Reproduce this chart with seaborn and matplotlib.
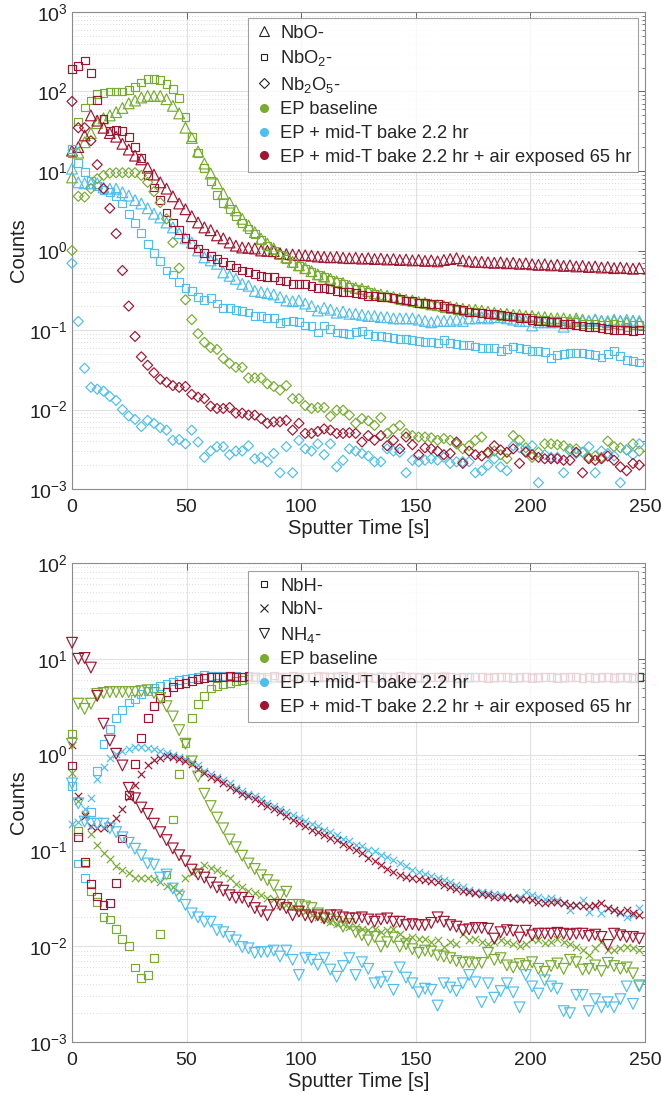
import numpy as np
import matplotlib
matplotlib.use("Agg")
import matplotlib.pyplot as plt
from matplotlib.lines import Line2D
from matplotlib.ticker import LogLocator, NullFormatter, MultipleLocator
import seaborn as sns

DT = 2.75  # seconds between profile points

# ---------------- top panel: oxides ----------------
nbo_ep = [8.3, 17, 23, 30, 40, 46, 50, 55, 62, 71, 77, 84, 88, 88, 88, 80, 66, 53, 35, 26,
          17.6, 12.4, 9.3, 7.0, 5.2, 4.0, 3.2, 2.5, 2.06, 1.7, 1.41, 1.22, 1.06, 0.92, 0.82, 0.72, 0.65, 0.6, 0.55, 0.5,
          0.47, 0.44, 0.41, 0.39, 0.36, 0.34, 0.33, 0.31, 0.29, 0.28,
          0.27, 0.26, 0.25, 0.24, 0.235, 0.225, 0.22, 0.21, 0.205, 0.2,
          0.195, 0.19, 0.185, 0.18, 0.18, 0.175, 0.17, 0.165, 0.16, 0.16,
          0.155, 0.155, 0.15, 0.15, 0.145, 0.145, 0.14, 0.14, 0.14, 0.135,
          0.14, 0.135, 0.13, 0.135, 0.13, 0.125, 0.13, 0.13, 0.125, 0.13, 0.125]
nbo2_ep = [17, 42, 63, 77, 92, 95, 100, 100, 100, 105, 115, 130, 145, 145, 138, 125, 108, 82, 48, 27,
           17, 11, 7.5, 5.0, 4.0, 3.3, 2.7, 2.2, 1.85, 1.6, 1.35, 1.15, 1.0, 0.88, 0.78, 0.7, 0.64, 0.58, 0.53, 0.49,
           0.46, 0.43, 0.4, 0.38, 0.35, 0.33, 0.32, 0.3, 0.285, 0.27,
           0.26, 0.25, 0.24, 0.235, 0.225, 0.22, 0.21, 0.205, 0.2, 0.19,
           0.185, 0.18, 0.175, 0.17, 0.17, 0.165, 0.16, 0.155, 0.15, 0.15,
           0.145, 0.145, 0.14, 0.14, 0.135, 0.135, 0.13, 0.13, 0.13, 0.125,
           0.125, 0.12, 0.12, 0.12, 0.115, 0.115, 0.12, 0.115, 0.11, 0.115, 0.115]
nb2o5_ep = [1.0, 4.8, 4.7, 6.0, 8.0, 8.8, 9.4, 9.5, 9.5, 9.5, 9.5, 8.8, 7.2, 5.5, 4.0, 2.5, 1.26, 0.6, 0.24, 0.135,
            0.09, 0.07, 0.06, 0.057, 0.044, 0.038, 0.034, 0.034, 0.025, 0.025, 0.025, 0.021, 0.0195, 0.0175, 0.02,
            0.0137, 0.0137, 0.0112, 0.0103, 0.0106,
            0.0106, 0.0082, 0.0098, 0.0098, 0.0085, 0.0067, 0.0077, 0.0072, 0.0063, 0.0079,
            0.005, 0.0057, 0.0063, 0.005, 0.0047, 0.0045, 0.0045, 0.0044, 0.0041, 0.0043,
            0.0041, 0.0037, 0.0032, 0.0035, 0.0041, 0.0045, 0.0028, 0.003, 0.0027, 0.0024,
            0.0047, 0.0041, 0.0033, 0.0025, 0.0029, 0.0037, 0.0037, 0.0036, 0.0035, 0.0032,
            0.0032, 0.0029, 0.0025, 0.0026, 0.0025, 0.004, 0.0034, 0.0033, 0.0031, 0.0037, 0.003]

nbo_bake = [10.7, 7.2, 7.0, 7.0, 7.0, 6.2, 6.0, 6.0, 5.4, 4.9, 4.3, 3.9, 3.4, 2.9, 2.6, 2.25, 1.95, 1.65, 1.42, 1.26,
            1.0, 0.82, 0.75, 0.68, 0.53, 0.48, 0.44, 0.38, 0.36, 0.31, 0.3, 0.29, 0.28, 0.26, 0.235, 0.23, 0.235,
            0.215, 0.2, 0.176,
            0.19, 0.18, 0.165, 0.17, 0.16, 0.16, 0.155, 0.15, 0.15, 0.145,
            0.145, 0.14, 0.14, 0.14, 0.14, 0.135, 0.13, 0.125, 0.13, 0.13,
            0.13, 0.135, 0.13, 0.14, 0.14, 0.145, 0.14, 0.145, 0.145, 0.14,
            0.135, 0.13, 0.13, 0.114, 0.125, 0.125, 0.125, 0.125, 0.11, 0.125,
            0.13, 0.13, 0.13, 0.135, 0.13, 0.13, 0.135, 0.13, 0.135, 0.13, 0.13]
nbo2_bake = [19, 12.5, 9.6, 7.6, 6.5, 5.8, 5.4, 4.9, 3.9, 2.9, 2.2, 1.65, 1.22, 0.92, 0.73, 0.56, 0.5, 0.4, 0.34, 0.31,
             0.26, 0.24, 0.25, 0.215, 0.19, 0.19, 0.18, 0.175, 0.166, 0.15, 0.15, 0.143, 0.14, 0.124, 0.128, 0.13,
             0.125, 0.114, 0.112, 0.093,
             0.114, 0.104, 0.093, 0.092, 0.09, 0.094, 0.096, 0.088, 0.085, 0.084,
             0.082, 0.08, 0.078, 0.077, 0.074, 0.073, 0.071, 0.07, 0.068, 0.074,
             0.068, 0.066, 0.065, 0.064, 0.062, 0.06, 0.06, 0.059, 0.055, 0.058,
             0.062, 0.06, 0.058, 0.055, 0.054, 0.053, 0.044, 0.049, 0.05, 0.051,
             0.051, 0.052, 0.05, 0.048, 0.045, 0.05, 0.054, 0.047, 0.042, 0.041, 0.039]
nb2o5_bake = [0.69, 0.128, 0.033, 0.019, 0.018, 0.017, 0.0146, 0.013, 0.01, 0.0083, 0.0075, 0.0061, 0.0073, 0.0067,
              0.0059, 0.0055, 0.0041, 0.0042, 0.0037, 0.0055, 0.0039, 0.0025, 0.003, 0.0034, 0.0034, 0.0027, 0.003,
              0.003, 0.0035, 0.0024, 0.0025, 0.0022, 0.0028, 0.0016, 0.0034, 0.0016, 0.0041, 0.0032, 0.003, 0.0037,
              0.0027, 0.0037, 0.0019, 0.0023, 0.0032, 0.003, 0.0028, 0.0026, 0.0022, 0.0022,
              0.0032, 0.003, 0.0029, 0.0016, 0.0023, 0.0022, 0.0023, 0.0024, 0.0023, 0.0025,
              0.0021, 0.0022, 0.0022, 0.0022, 0.0016, 0.0017, 0.002, 0.0024, 0.0019, 0.0017,
              0.0035, 0.0033, 0.003, 0.0035, 0.0012, 0.0027, 0.0025, 0.0025, 0.0016, 0.003,
              0.0028, 0.0029, 0.0034, 0.0016, 0.003, 0.0028, 0.0026, 0.0012, 0.0031, 0.0027, 0.0037]

nbo_air = [18, 20, 28, 50, 43, 35, 30, 27, 22, 18.6, 15.6, 14, 11, 9, 7.2, 6, 4.8, 3.9, 3.3, 2.7,
           2.25, 1.95, 1.8, 1.55, 1.42, 1.26, 1.15, 1.09, 1.08, 1.06, 1.0, 0.99, 0.98, 0.92, 0.9, 0.89, 0.88,
           0.87, 0.86, 0.84,
           0.83, 0.82, 0.83, 0.81, 0.8, 0.81, 0.79, 0.8, 0.78, 0.79,
           0.77, 0.78, 0.76, 0.77, 0.75, 0.76, 0.74, 0.75, 0.73, 0.76,
           0.78, 0.8, 0.75, 0.73, 0.72, 0.72, 0.71, 0.7, 0.71, 0.69,
           0.7, 0.68, 0.69, 0.67, 0.66, 0.67, 0.65, 0.66, 0.64, 0.65,
           0.63, 0.64, 0.62, 0.63, 0.61, 0.62, 0.6, 0.61, 0.6, 0.59, 0.6]
nbo2_air = [190, 210, 245, 170, 79, 45, 32, 33, 32, 27, 20, 14.5, 9, 6.2, 4.3, 3.0, 2.25, 1.8, 1.42, 1.22,
            1.06, 0.92, 0.86, 0.79, 0.71, 0.65, 0.61, 0.56, 0.53, 0.51, 0.48, 0.46, 0.46, 0.42, 0.41, 0.38, 0.38,
            0.38, 0.36, 0.34,
            0.34, 0.33, 0.31, 0.3, 0.3, 0.29, 0.28, 0.27, 0.27, 0.26,
            0.26, 0.25, 0.245, 0.235, 0.23, 0.22, 0.22, 0.21, 0.21, 0.2,
            0.19, 0.185, 0.18, 0.17, 0.166, 0.165, 0.16, 0.16, 0.155, 0.15,
            0.148, 0.143, 0.14, 0.135, 0.13, 0.13, 0.125, 0.125, 0.12, 0.118,
            0.114, 0.112, 0.11, 0.108, 0.106, 0.104, 0.1, 0.1, 0.1, 0.098, 0.1]
nb2o5_air = [75, 35, 35, 24, 12, 6, 3.4, 1.63, 0.56, 0.2, 0.083, 0.046, 0.036, 0.029, 0.024, 0.022, 0.02, 0.019,
             0.0195, 0.0155, 0.0143, 0.0137, 0.011, 0.0103, 0.0103, 0.0106, 0.009, 0.009, 0.0085, 0.0085, 0.0077,
             0.0067, 0.007, 0.007, 0.0073, 0.0055, 0.0067, 0.005, 0.005, 0.0053,
             0.0057, 0.0055, 0.005, 0.005, 0.0051, 0.005, 0.0039, 0.0047, 0.0041, 0.0047,
             0.0035, 0.0041, 0.0032, 0.0045, 0.0036, 0.0027, 0.0033, 0.0032, 0.003, 0.0027,
             0.0028, 0.0039, 0.0021, 0.003, 0.0027, 0.0026, 0.0029, 0.0035, 0.0031, 0.0029,
             0.0032, 0.0021, 0.0029, 0.0027, 0.0025, 0.0024, 0.0024, 0.0024, 0.0023, 0.0023,
             0.0029, 0.0016, 0.0024, 0.0023, 0.0024, 0.0026, 0.0023, 0.0019, 0.0017, 0.0021, 0.002]

# ---------------- bottom panel: hydride / nitride ----------------
nbh_ep = [1.66, 0.16, 0.073, 0.038, 0.029, 0.02, 0.019, 0.015, 0.012, 0.0101, 0.006, 0.0047, 0.005, 0.0075,
          0.0135, 0.056, 0.21, 0.63, 1.33, 2.4, 3.4, 4.1, 4.9, 5.2, 5.5, 5.6, 5.9, 6.0, 6.1, 6.2,
          6.3, 6.2, 6.4, 6.3, 6.4, 6.5, 6.3, 6.4, 6.5, 6.4, 6.6, 6.4, 6.5, 6.3, 6.4, 6.5, 6.6, 6.4, 6.5, 6.4,
          6.5, 6.3, 6.6, 6.4, 6.5, 6.4, 6.3, 6.5, 6.4, 6.6, 6.4, 6.5, 6.3, 6.4, 6.5, 6.4, 6.5, 6.3, 6.4, 6.5,
          6.4, 6.3, 6.5, 6.4, 6.3, 6.4, 6.5, 6.4, 6.3, 6.4, 6.5, 6.3, 6.4, 6.3, 6.4, 6.4, 6.3, 6.4, 6.3, 6.4, 6.4]
nbh_bake = [0.47, 0.073, 0.052, 0.25, 0.67, 1.3, 1.86, 2.4, 2.9, 3.5, 3.8, 4.3, 4.6, 5.0, 5.2, 5.5, 5.8, 6.0, 6.2,
            6.3, 6.5, 6.8, 6.6, 6.7, 6.6, 6.5, 6.6, 6.4, 6.5, 6.6, 6.4, 6.5, 6.3, 6.5, 6.4, 6.6, 6.5, 6.4, 6.5,
            6.3, 6.5, 6.4, 6.6, 6.4, 6.5, 6.3, 6.4, 6.5, 6.4, 6.6, 6.4, 6.3, 6.5, 6.4, 6.5, 6.3, 6.4, 6.5, 6.4,
            6.3, 6.5, 6.4, 6.5, 6.3, 6.4, 6.4, 6.5, 6.3, 6.4, 6.5, 6.4, 6.3, 6.4, 6.5, 6.3, 6.4, 6.4, 6.5, 6.3,
            6.4, 6.4, 6.3, 6.4, 6.5, 6.3, 6.4, 6.4, 6.3, 6.4, 6.4, 6.5]
nbh_air = [0.77, 0.137, 0.075, 0.045, 0.033, 0.027, 0.028, 0.046, 0.133, 0.38, 0.8, 1.5, 2.4, 3.2, 3.9, 4.5, 5.1,
           5.5, 5.6, 5.9, 6.1, 6.3, 6.4, 6.5, 6.4, 6.6, 6.5, 6.4, 6.6, 6.5, 6.4, 6.5, 6.7, 6.5, 6.4, 6.6, 6.5,
           6.4, 6.5, 6.6, 6.4, 6.5, 6.4, 6.6, 6.5, 6.4, 6.5, 6.4, 6.3, 6.5, 6.4, 6.5, 6.6, 6.4, 6.5, 6.4, 6.3,
           6.5, 6.4, 6.5, 6.4, 6.3, 6.5, 6.4, 6.5, 6.4, 6.3, 6.4, 6.5, 6.4, 6.3, 6.5, 6.4, 6.3, 6.4, 6.5, 6.4,
           6.3, 6.4, 6.4, 6.5, 6.3, 6.4, 6.3, 6.4, 6.5, 6.3, 6.4, 6.4, 6.3, 6.5]

nbn_ep = [0.65, 0.33, 0.24, 0.15, 0.115, 0.093, 0.081, 0.068, 0.062, 0.058, 0.052, 0.052, 0.052, 0.05, 0.047,
          0.043, 0.041, 0.037, 0.052, 0.058, 0.063, 0.071, 0.065, 0.062, 0.058, 0.051, 0.045, 0.041, 0.038, 0.036,
          0.034, 0.032, 0.031, 0.027, 0.027, 0.026, 0.024, 0.023, 0.021, 0.02,
          0.019, 0.018, 0.017, 0.017, 0.016, 0.016, 0.015, 0.0146, 0.015, 0.014,
          0.0146, 0.015, 0.0135, 0.012, 0.0125, 0.012, 0.012, 0.011, 0.0115, 0.0099,
          0.011, 0.0105, 0.0133, 0.0115, 0.012, 0.011, 0.0105, 0.011, 0.0115, 0.011,
          0.0105, 0.01, 0.0105, 0.012, 0.0115, 0.0108, 0.011, 0.012, 0.011, 0.0105,
          0.0098, 0.0092, 0.0081, 0.0095, 0.011, 0.0092, 0.0092, 0.0095, 0.0098, 0.0095, 0.0092]
nbn_bake = [0.19, 0.2, 0.27, 0.35, 0.55, 0.75, 0.93, 1.02, 1.1, 1.15, 1.2, 1.2, 1.18, 1.15, 1.1, 1.05, 1.0, 0.95,
            0.91, 0.83, 0.77, 0.68, 0.63, 0.58, 0.54, 0.5, 0.45, 0.42, 0.39, 0.37, 0.34, 0.31, 0.29, 0.27, 0.25,
            0.235, 0.22, 0.205, 0.19, 0.18,
            0.165, 0.155, 0.145, 0.13, 0.125, 0.115, 0.11, 0.1, 0.098, 0.09,
            0.085, 0.08, 0.073, 0.068, 0.062, 0.06, 0.057, 0.054, 0.051, 0.049,
            0.047, 0.044, 0.041, 0.039, 0.037, 0.037, 0.036, 0.035, 0.034, 0.033,
            0.032, 0.033, 0.037, 0.034, 0.033, 0.031, 0.032, 0.03, 0.028, 0.024,
            0.027, 0.03, 0.023, 0.026, 0.022, 0.025, 0.024, 0.022, 0.02, 0.021, 0.025]
nbn_air = [1.27, 0.37, 0.23, 0.18, 0.17, 0.17, 0.19, 0.22, 0.27, 0.36, 0.48, 0.62, 0.77, 0.87, 0.93, 0.97, 0.95,
           0.91, 0.85, 0.8, 0.71, 0.65, 0.59, 0.55, 0.5, 0.46, 0.43, 0.39, 0.37, 0.34, 0.31, 0.29, 0.27, 0.25,
           0.23, 0.21, 0.195, 0.18, 0.165, 0.155,
           0.145, 0.135, 0.127, 0.118, 0.108, 0.1, 0.093, 0.083, 0.077, 0.07,
           0.064, 0.06, 0.056, 0.053, 0.051, 0.05, 0.049, 0.048, 0.047, 0.044,
           0.041, 0.04, 0.038, 0.037, 0.036, 0.035, 0.034, 0.033, 0.033, 0.033,
           0.032, 0.031, 0.031, 0.03, 0.029, 0.028, 0.029, 0.029, 0.028, 0.027,
           0.027, 0.026, 0.026, 0.027, 0.028, 0.025, 0.024, 0.023, 0.024, 0.022, 0.021]

nh4_ep = [1.3, 3.4, 3.0, 3.4, 4.3, 4.4, 4.5, 4.5, 4.5, 4.5, 4.5, 4.6, 4.7, 4.4, 3.9, 3.2, 2.5, 1.8, 1.3, 0.85,
          0.59, 0.39, 0.29, 0.22, 0.17, 0.13, 0.108, 0.088, 0.073, 0.064, 0.055, 0.049, 0.043, 0.034, 0.037,
          0.027, 0.027, 0.026, 0.025, 0.022,
          0.02, 0.019, 0.018, 0.016, 0.017, 0.014, 0.013, 0.0115, 0.0125, 0.0099,
          0.011, 0.0123, 0.0099, 0.0105, 0.0093, 0.0085, 0.009, 0.0088, 0.008, 0.0078,
          0.0075, 0.007, 0.0067, 0.0068, 0.0066, 0.0067, 0.0085, 0.0072, 0.0075, 0.0063,
          0.006, 0.0065, 0.0062, 0.0068, 0.0058, 0.0054, 0.0062, 0.0066, 0.0058, 0.0072,
          0.0068, 0.0057, 0.0058, 0.0063, 0.0055, 0.0067, 0.0062, 0.0058, 0.006, 0.0052, 0.0039]
nh4_bake = [0.5, 0.31, 0.2, 0.19, 0.19, 0.19, 0.17, 0.155, 0.137, 0.12, 0.104, 0.089, 0.073, 0.071, 0.052, 0.056,
            0.04, 0.033, 0.027, 0.022, 0.02, 0.018, 0.018, 0.0147, 0.014, 0.0125, 0.0115, 0.0098, 0.0095, 0.0085,
            0.0087, 0.0087, 0.009, 0.0078, 0.009, 0.0072, 0.005, 0.0075, 0.0072, 0.0064,
            0.0075, 0.0057, 0.0048, 0.0062, 0.0075, 0.005, 0.0068, 0.0058, 0.0041, 0.0042,
            0.0048, 0.0035, 0.006, 0.0047, 0.0041, 0.0033, 0.0036, 0.0035, 0.0024, 0.0041,
            0.0037, 0.0034, 0.0041, 0.005, 0.0042, 0.0026, 0.0041, 0.0029, 0.0034, 0.0041,
            0.0033, 0.0023, 0.005, 0.0038, 0.0032, 0.0044, 0.0038, 0.0036, 0.0021, 0.002,
            0.0031, 0.0031, 0.0021, 0.0028, 0.0023, 0.0026, 0.0023, 0.0028, 0.0038, 0.0025, 0.0038]
nh4_air = [14.7, 10, 10.2, 8.1, 4.1, 2.1, 1.4, 1.02, 0.77, 0.45, 0.35, 0.28, 0.24, 0.19, 0.155, 0.128, 0.105,
           0.089, 0.077, 0.063, 0.056, 0.052, 0.046, 0.041, 0.038, 0.034, 0.032, 0.032, 0.029, 0.025, 0.023,
           0.021, 0.027, 0.027, 0.025, 0.021, 0.023, 0.021, 0.02, 0.021,
           0.0195, 0.021, 0.021, 0.02, 0.0195, 0.0195, 0.02, 0.019, 0.018, 0.019,
           0.0195, 0.018, 0.018, 0.0166, 0.017, 0.0166, 0.0166, 0.0175, 0.02, 0.018,
           0.0166, 0.016, 0.0147, 0.015, 0.0155, 0.0155, 0.0152, 0.012, 0.014, 0.0147,
           0.0145, 0.0123, 0.0145, 0.013, 0.0135, 0.0135, 0.0135, 0.0138, 0.0135, 0.0132,
           0.0135, 0.0135, 0.0128, 0.0132, 0.0125, 0.0103, 0.0135, 0.013, 0.0125, 0.0125, 0.012]

samples = ["EP baseline", "EP + mid-T bake 2.2 hr", "EP + mid-T bake 2.2 hr + air exposed 65 hr"]
colors = ["#77AC30", "#4DBEEE", "#A2142F"]

top_species = [("NbO-", "^", 60, [nbo_ep, nbo_bake, nbo_air]),
               ("NbO$_2$-", "s", 32, [nbo2_ep, nbo2_bake, nbo2_air]),
               ("Nb$_2$O$_5$-", "D", 26, [nb2o5_ep, nb2o5_bake, nb2o5_air])]
bot_species = [("NbH-", "s", 32, [nbh_ep, nbh_bake, nbh_air]),
               ("NbN-", "x", 28, [nbn_ep, nbn_bake, nbn_air]),
               ("NH$_4$-", "v", 60, [nh4_ep, nh4_bake, nh4_air])]

sns.set_theme(style="white")
plt.rcParams["font.family"] = ["Liberation Sans", "DejaVu Sans"]
plt.rcParams["mathtext.fontset"] = "custom"
plt.rcParams["mathtext.rm"] = "Liberation Sans"
plt.rcParams["mathtext.it"] = "Liberation Sans:italic"
plt.rcParams["mathtext.bf"] = "Liberation Sans:bold"

W, H = 661, 1095
fig = plt.figure(figsize=(W / 100, H / 100), dpi=100)
ax1 = fig.add_axes([72 / W, 1 - 489 / H, (645 - 72) / W, (489 - 12) / H])
ax2 = fig.add_axes([72 / W, 1 - 1042 / H, (645 - 72) / W, (1042 - 563) / H])


def style_axes(ax, ylim):
    ax.set_yscale("log")
    ax.set_xlim(0, 250)
    ax.set_ylim(*ylim)
    ax.xaxis.set_major_locator(MultipleLocator(50))
    ax.yaxis.set_major_locator(LogLocator(base=10, numticks=12))
    ax.yaxis.set_minor_locator(LogLocator(base=10, subs=np.arange(2, 10), numticks=100))
    ax.yaxis.set_minor_formatter(NullFormatter())
    ax.set_axisbelow(True)
    ax.grid(which="major", color="#e1e1e1", lw=0.8, ls="-")
    ax.grid(which="minor", axis="y", color="#d2d2d2", lw=0.6, ls=(0, (1, 2.5)))
    ax.tick_params(which="both", direction="in", top=True, right=True, color="#666666",
                   labelcolor="#222222", labelsize=14)
    ax.tick_params(which="major", length=5, width=0.7)
    ax.tick_params(which="minor", length=2.5, width=0.6)
    ax.tick_params(axis="x", pad=7.5)
    ax.tick_params(axis="y", pad=3)
    for s in ax.spines.values():
        s.set_color("#8c8c8c")
        s.set_linewidth(0.8)


def draw(ax, species):
    for name, marker, size, series in species:
        for vals, c in zip(series, colors):
            t = DT * np.arange(len(vals))
            kw = dict(x=t, y=np.asarray(vals, float), ax=ax, marker=marker, s=size,
                      linewidth=0.85, legend=False, clip_on=False, zorder=3)
            if marker == "x":
                sns.scatterplot(color=c, **kw)
            else:
                sns.scatterplot(color=c, facecolor="none", edgecolor=c, **kw)


def add_legend(ax, species, anchor):
    handles = []
    for name, marker, size, _ in species:
        ms = {"^": 6.5, "s": 5.0, "D": 4.6, "x": 5.2, "v": 6.5}[marker]
        handles.append(Line2D([], [], ls="none", marker=marker, ms=ms, mfc="none",
                              mec="#222222", mew=0.8, color="#222222", label=name))
    for lab, c in zip(samples, colors):
        handles.append(Line2D([], [], ls="none", marker="o", ms=5.5, mfc=c, mec=c, label=lab))
    leg = ax.legend(handles=handles, loc="upper right", bbox_to_anchor=anchor, borderaxespad=0,
                    fontsize=13.2, frameon=True, fancybox=False, edgecolor="#8c8c8c", framealpha=0.82,
                    handlelength=1.0, handletextpad=0.4, borderpad=0.35, labelspacing=0.36)
    leg.get_frame().set_linewidth(0.8)
    leg.set_zorder(10)


for ax, ylim, species, anchor in [(ax1, (1e-3, 1e3), top_species, (0.988, 0.987)),
                                  (ax2, (1e-3, 1e2), bot_species, (0.988, 0.983))]:
    style_axes(ax, ylim)
    draw(ax, species)
    ax.set_xlim(0, 250)
    ax.set_ylim(*ylim)
    ax.set_xlabel("Sputter Time [s]", fontsize=14.5, color="#222222", labelpad=2)
    ax.set_ylabel("Counts", fontsize=14.5, color="#222222", labelpad=1)
    add_legend(ax, species, anchor)

fig.savefig("out.png", dpi=100)
